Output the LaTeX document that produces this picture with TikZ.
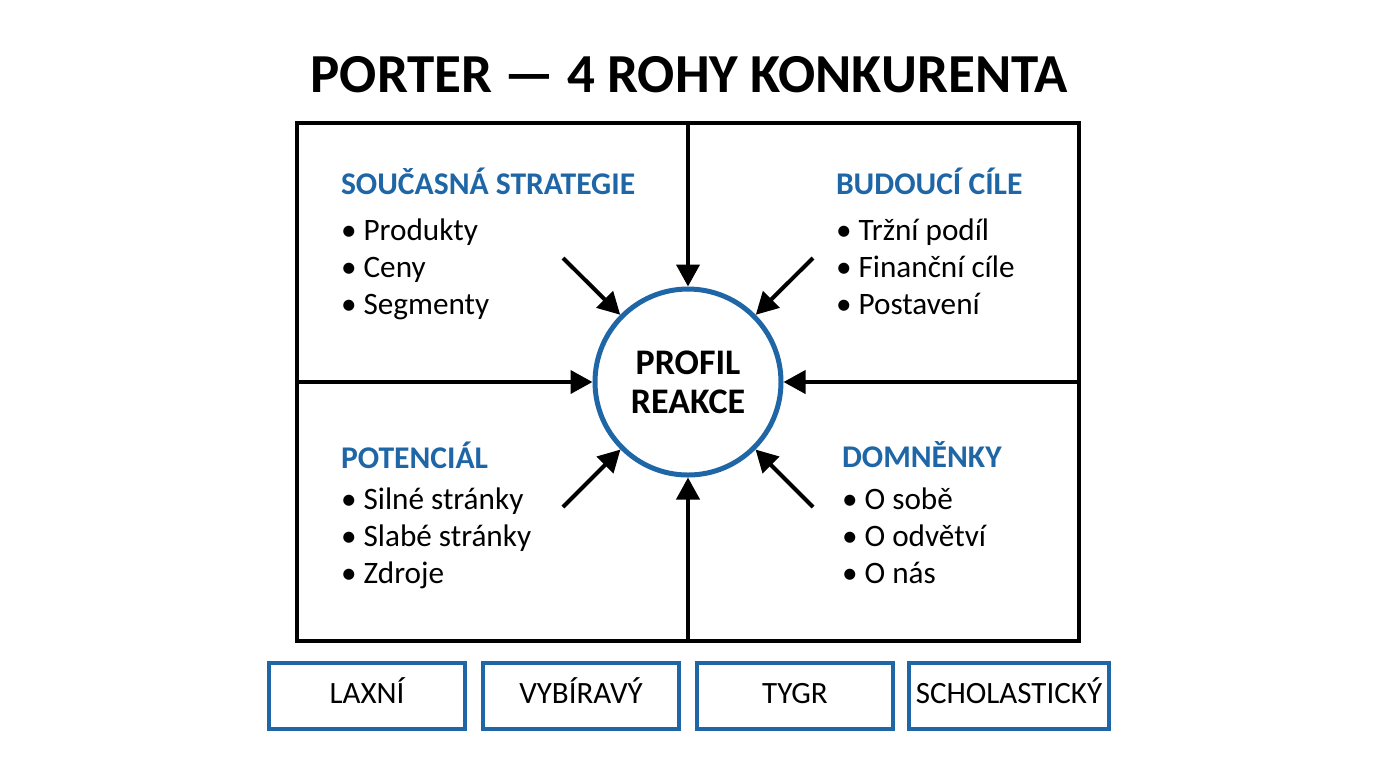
\documentclass[tikz,border=0pt]{standalone}
\usepackage{fontspec}
\setmainfont{Carlito}
\usetikzlibrary{arrows.meta, positioning}
\definecolor{porterblue}{RGB}{30,102,166}

\begin{document}
\begin{tikzpicture}[
x=0.5pt, y=-0.5pt,
>={Triangle[length=11pt,width=11.5pt]},
line width=2pt,
head/.style={anchor=west, text=porterblue, font=\bfseries\fontsize{15.8}{18}\selectfont, inner sep=0pt},
items/.style={anchor=north west, align=left, font=\fontsize{15.6}{18.5}\selectfont, inner sep=0pt},
typebox/.style={draw=porterblue, line width=2.2pt, minimum width=98pt, minimum height=33pt,
  text height=7pt, text depth=0pt, font=\fontsize{15.5}{18}\selectfont},
]
\useasboundingbox (0,0) rectangle (1376,768);

% title
\node[font=\bfseries\fontsize{27.5}{32}\selectfont] (title) at (689,75) {PORTER — 4 ROHY KONKURENTA};

% frame
\draw (297,123) rectangle (1079,641);

% centre
\node[circle, draw=porterblue, line width=2.5pt, minimum size=93pt, align=center,
      font=\bfseries\fontsize{18}{19.5}\selectfont, fill=white] (P) at (688,382) {PROFIL\\REAKCE};

%% corners
% top left
\node[head] (cs) at (339,181) {SOUČASNÁ STRATEGIE};
\node[items] (csl) at (339,217) {• Produkty\\• Ceny\\• Segmenty};
% top right
\node[head] (bc) at (834,181) {BUDOUCÍ CÍLE};
\node[items] (bcl) at (834,217) {• Tržní podíl\\• Finanční cíle\\• Postavení};
% bottom left
\node[head] (po) at (339,455) {POTENCIÁL};
\node[items] (pol) at (339,486) {• Silné stránky\\• Slabé stránky\\• Zdroje};
% bottom right
\node[head] (dm) at (840,455) {DOMNĚNKY};
\node[items] (dml) at (840,486) {• O sobě\\• O odvětví\\• O nás};

% arrow starts
\coordinate (T) at (688,123);
\coordinate (B) at (688,641);
\coordinate (L) at (297,382);
\coordinate (R) at (1079,382);
\coordinate (TL) at (563,258);
\coordinate (TR) at (813,258);
\coordinate (BL) at (563,507);
\coordinate (BR) at (813,507);

% arrows
\draw[->] (T) -- (P);
\draw[->] (B) -- (P);
\draw[->] (L) -- (P);
\draw[->] (R) -- (P);
\draw[->] (TL) -- (P);
\draw[->] (TR) -- (P);
\draw[->] (BL) -- (P);
\draw[->] (BR) -- (P);

%% competitor types
\node[typebox] (lax) at (367,696) {LAXNÍ};
\node[typebox] (vyb) at (581,696) {VYBÍRAVÝ};
\node[typebox] (tyg) at (795,696) {TYGR};
\node[typebox] (sch) at (1009,696) {SCHOLASTICKÝ};
\end{tikzpicture}
\end{document}
